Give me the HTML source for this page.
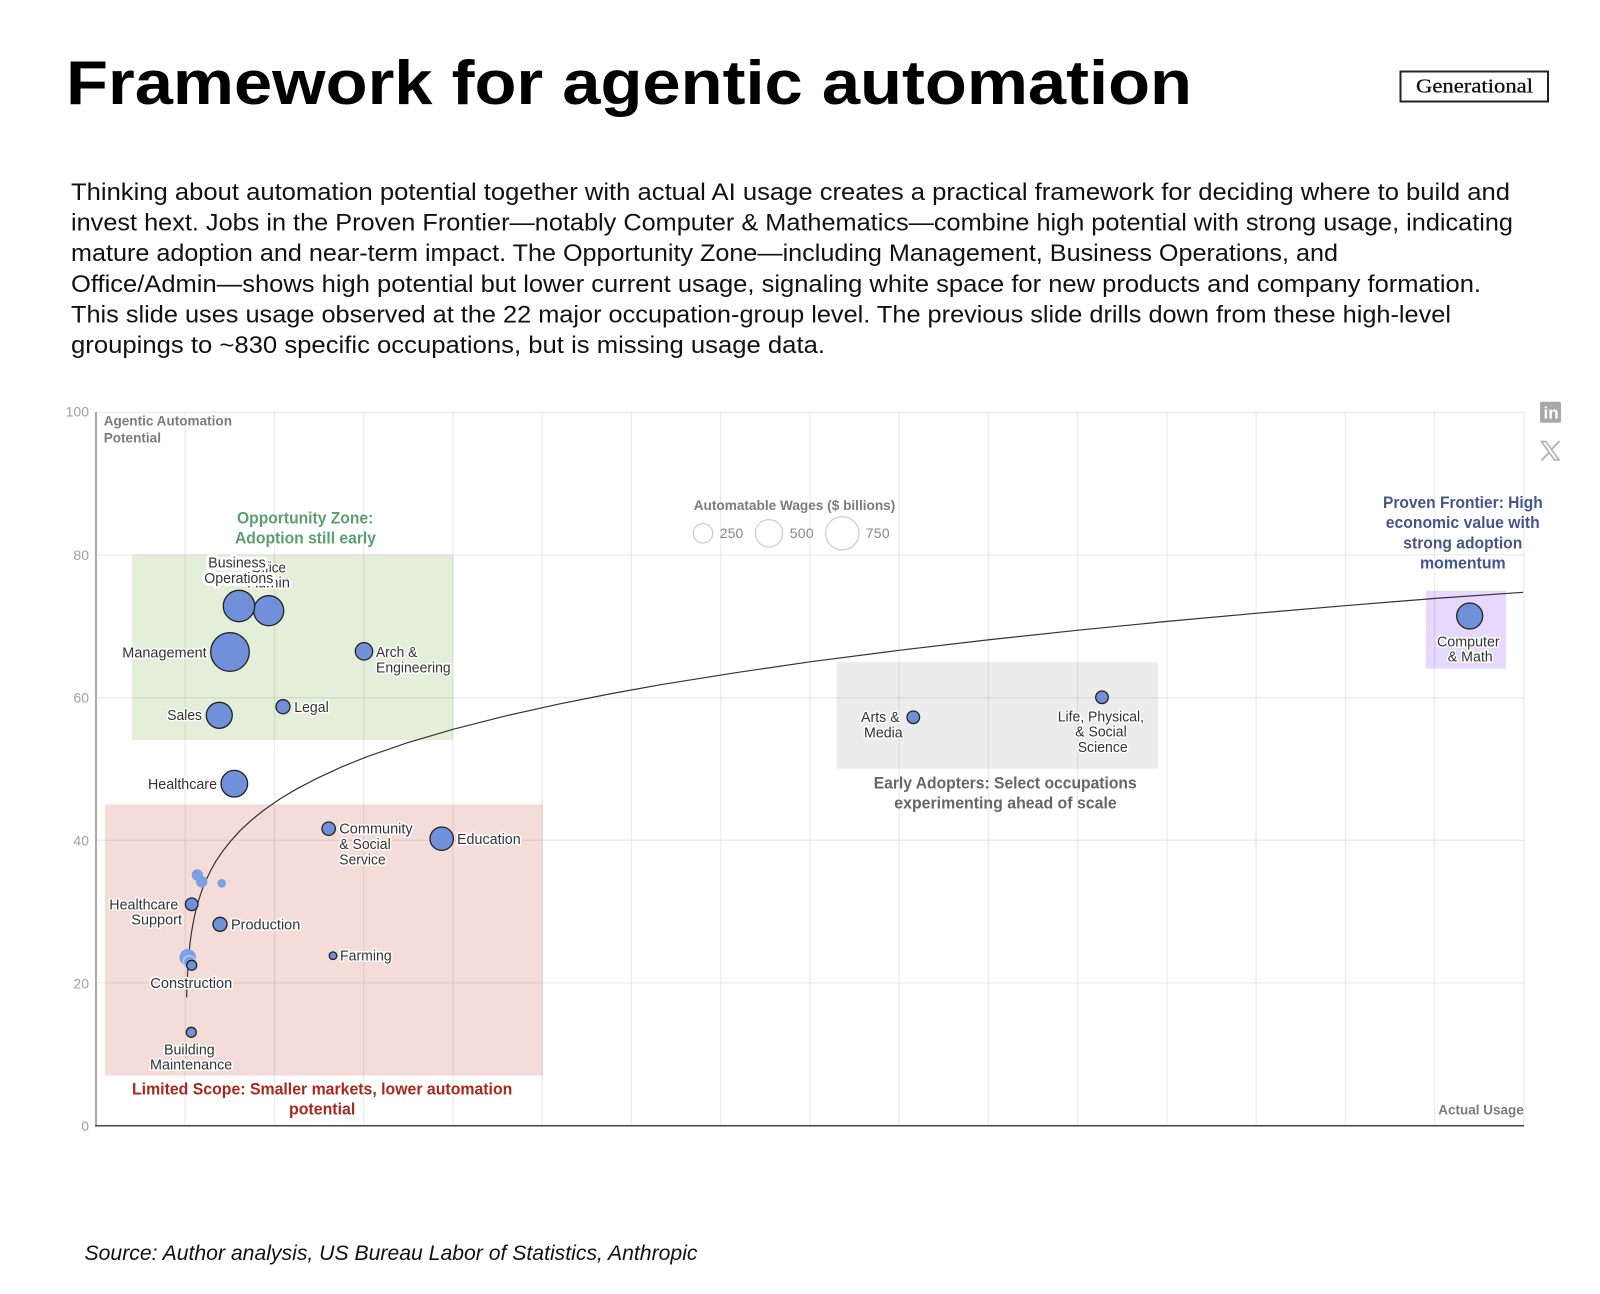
<!DOCTYPE html>
<html>
<head>
<meta charset="utf-8">
<title>Framework for agentic automation</title>
<style>
html,body{margin:0;padding:0;background:#fff;width:1600px;height:1294px;overflow:hidden}
svg{display:block}
text{font-family:"Liberation Sans",sans-serif}
.body{font-size:24.5px;fill:#111}
.l{font-size:14.3px;fill:#333;stroke:#fff;stroke-width:3px;paint-order:stroke;stroke-linejoin:round}
.top{stroke-width:6px}
.ax{font-size:14px;fill:#a0a0a0;text-anchor:end}
.g{font-size:14px;font-weight:bold;fill:#7c7c7c}
.z{font-size:17px;font-weight:bold}
.leg{font-size:14px;fill:#888}
.grid{stroke:#000;stroke-opacity:.075;stroke-width:1.3;fill:none}
.b{fill:#7090da;stroke:#222;stroke-width:1.3}
.lb{fill:#7c9fe6}
</style>
</head>
<body>
<svg width="1600" height="1294" viewBox="0 0 1600 1294" xmlns="http://www.w3.org/2000/svg">
<rect width="1600" height="1294" fill="#fff"/>

<text x="66" y="104" font-size="62" font-weight="bold" fill="#000" textLength="1126" lengthAdjust="spacingAndGlyphs">Framework for agentic automation</text>

<rect x="1400.5" y="71.5" width="147.5" height="30" fill="#fff" stroke="#222" stroke-width="2"/>
<text x="1416" y="92.5" font-size="20" fill="#111" stroke="#111" stroke-width=".3" style="font-family:'Liberation Serif',serif" textLength="117" lengthAdjust="spacingAndGlyphs">Generational</text>

<text class="body" x="71" y="200" textLength="1439" lengthAdjust="spacingAndGlyphs">Thinking about automation potential together with actual AI usage creates a practical framework for deciding where to build and</text>
<text class="body" x="71" y="230.6" textLength="1442" lengthAdjust="spacingAndGlyphs">invest hext. Jobs in the Proven Frontier—notably Computer &amp; Mathematics—combine high potential with strong usage, indicating</text>
<text class="body" x="71" y="261.2" textLength="1267" lengthAdjust="spacingAndGlyphs">mature adoption and near-term impact. The Opportunity Zone—including Management, Business Operations, and</text>
<text class="body" x="71" y="291.8" textLength="1410" lengthAdjust="spacingAndGlyphs">Office/Admin—shows high potential but lower current usage, signaling white space for new products and company formation.</text>
<text class="body" x="71" y="322.4" textLength="1380" lengthAdjust="spacingAndGlyphs">This slide uses usage observed at the 22 major occupation-group level. The previous slide drills down from these high-level</text>
<text class="body" x="71" y="353" textLength="754" lengthAdjust="spacingAndGlyphs">groupings to ~830 specific occupations, but is missing usage data.</text>

<!-- zones -->
<rect x="132" y="554.7" width="321.3" height="185.3" fill="#e3efd9"/>
<rect x="105" y="804.3" width="437.7" height="271.4" fill="#f4ddd9"/>
<rect x="836.7" y="662" width="321.3" height="106.7" fill="#ececec"/>
<rect x="1425.7" y="590.7" width="80.3" height="78" fill="#e6d9fd"/>

<!-- grid -->
<g class="grid">
<path d="M96 412.3H1523.8M96 554.9H1523.8M96 697.7H1523.8M96 840.3H1523.8M96 982.9H1523.8"/>
<path d="M185.2 412V1125M274.5 412V1125M363.7 412V1125M453 412V1125M542.2 412V1125M631.4 412V1125M720.7 412V1125M809.9 412V1125M899.2 412V1125M988.4 412V1125M1077.6 412V1125M1166.9 412V1125M1256.1 412V1125M1345.4 412V1125M1434.6 412V1125M1523.8 412V1125"/>
</g>

<!-- axes -->
<line x1="96" y1="412" x2="96" y2="1126" stroke="#9a9a9a" stroke-width="1.7"/>
<line x1="95" y1="1125.7" x2="1524" y2="1125.7" stroke="#444" stroke-width="1.5"/>

<text class="ax" x="89" y="416.7">100</text>
<text class="ax" x="89" y="560">80</text>
<text class="ax" x="89" y="702.7">60</text>
<text class="ax" x="89" y="845.7">40</text>
<text class="ax" x="89" y="988.3">20</text>
<text class="ax" x="89" y="1131">0</text>

<text class="g" x="103.7" y="425.7" textLength="128.3" lengthAdjust="spacingAndGlyphs">Agentic Automation</text>
<text class="g" x="103.7" y="442.7" textLength="57.3" lengthAdjust="spacingAndGlyphs">Potential</text>
<text class="g" x="1438.3" y="1114.7" textLength="85.4" lengthAdjust="spacingAndGlyphs">Actual Usage</text>

<!-- trend curve -->
<polyline fill="none" stroke="#333" stroke-width="1.2" stroke-linejoin="round" points="186.6,997.4 187,984.7 188,965.4 189,952.9 190,943.5 191.5,932.4 193,923.6 194.5,916.2 196,909.8 198,902.4 201,893 203,887.6 206,880.3 211,869.9 216,861.1 223,850.7 231,840.7 241,829.7 251,820.5 264,810 280,798.9 296,789.3 316,778.8 341,767.2 366,757.1 406,743.2 453,729.3 506,715.8 560,703.8 610,693.9 660,684.8 735,672.8 810,661.8 899,650.3 988,639.9 1077,630.3 1166,621.5 1256,613.3 1345,605.7 1434,598.5 1523,592.3"/>

<!-- legend -->
<text class="g" x="693.7" y="510" textLength="201.6" lengthAdjust="spacingAndGlyphs">Automatable Wages ($ billions)</text>
<g fill="none" stroke="#ccc" stroke-width="1.2">
<circle cx="703" cy="533.3" r="9.7"/>
<circle cx="769" cy="533.3" r="13.7"/>
<circle cx="842.3" cy="533.3" r="16.7"/>
</g>
<text class="leg" x="719.7" y="538" textLength="23.6">250</text>
<text class="leg" x="789.7" y="538" textLength="24">500</text>
<text class="leg" x="865.7" y="538" textLength="24">750</text>

<!-- bubbles -->
<circle class="b" cx="268.7" cy="610.7" r="15"/>
<circle class="b" cx="239" cy="606" r="15.7"/>
<circle class="b" cx="230" cy="652" r="19.3"/>
<circle class="b" cx="364" cy="651.3" r="8.7"/>
<circle class="b" cx="219.3" cy="715.3" r="13"/>
<circle class="b" cx="283" cy="706.7" r="7"/>
<circle class="b" cx="234.3" cy="783.7" r="13.3"/>
<circle class="b" cx="328.7" cy="828.7" r="6.7"/>
<circle class="b" cx="441.7" cy="838.7" r="11.7"/>
<circle class="lb" cx="197.3" cy="875" r="5.7"/>
<circle class="lb" cx="201.7" cy="881.7" r="5.7"/>
<circle class="lb" cx="221.7" cy="883.3" r="4.3"/>
<circle class="b" cx="191.7" cy="904.3" r="6.3"/>
<circle class="b" cx="220" cy="924.3" r="7"/>
<circle class="lb" cx="187.7" cy="957.3" r="8.3"/>
<circle class="lb" cx="189.3" cy="961.7" r="6" stroke="#b8c9f0" stroke-width="1.5"/>
<circle class="b" cx="191.7" cy="965.3" r="5"/>
<circle class="b" cx="333" cy="955.7" r="3.8"/>
<circle class="b" cx="191.3" cy="1032.3" r="5"/>
<circle class="b" cx="913.3" cy="717.3" r="6.3"/>
<circle class="b" cx="1102" cy="697.3" r="6.3"/>
<circle class="b" cx="1469.7" cy="616" r="13"/>

<!-- labels -->
<text class="l" x="251" y="572.3" textLength="35" lengthAdjust="spacingAndGlyphs">Office</text>
<text class="l" x="248" y="587.7" textLength="42" lengthAdjust="spacingAndGlyphs">Admin</text>
<text class="l top" x="208.3" y="567.7" textLength="57.4" lengthAdjust="spacingAndGlyphs">Business</text>
<text class="l top" x="204.3" y="583" textLength="69" lengthAdjust="spacingAndGlyphs">Operations</text>
<text class="l" x="122.3" y="657.3" textLength="84.4" lengthAdjust="spacingAndGlyphs">Management</text>
<text class="l" x="376" y="657" textLength="41.3" lengthAdjust="spacingAndGlyphs">Arch &amp;</text>
<text class="l" x="376" y="672.7" textLength="74.7" lengthAdjust="spacingAndGlyphs">Engineering</text>
<text class="l" x="167.3" y="720" textLength="34.7" lengthAdjust="spacingAndGlyphs">Sales</text>
<text class="l" x="294.3" y="712" textLength="34.4" lengthAdjust="spacingAndGlyphs">Legal</text>
<text class="l" x="148" y="789" textLength="69" lengthAdjust="spacingAndGlyphs">Healthcare</text>
<text class="l" x="339.3" y="833.7" textLength="73.4" lengthAdjust="spacingAndGlyphs">Community</text>
<text class="l" x="339.3" y="849" textLength="51.4" lengthAdjust="spacingAndGlyphs">&amp; Social</text>
<text class="l" x="339.3" y="864.3" textLength="46.4" lengthAdjust="spacingAndGlyphs">Service</text>
<text class="l" x="457" y="844" textLength="63.7" lengthAdjust="spacingAndGlyphs">Education</text>
<text class="l" x="109.3" y="909.3" textLength="69" lengthAdjust="spacingAndGlyphs">Healthcare</text>
<text class="l" x="131.3" y="924.7" textLength="50.7" lengthAdjust="spacingAndGlyphs">Support</text>
<text class="l" x="231" y="929.7" textLength="69.3" lengthAdjust="spacingAndGlyphs">Production</text>
<text class="l" x="340" y="960.3" textLength="51.7" lengthAdjust="spacingAndGlyphs">Farming</text>
<text class="l" x="150.3" y="988" textLength="82" lengthAdjust="spacingAndGlyphs">Construction</text>
<text class="l" x="164" y="1054.3" textLength="50.7" lengthAdjust="spacingAndGlyphs">Building</text>
<text class="l" x="150" y="1069.7" textLength="82.3" lengthAdjust="spacingAndGlyphs">Maintenance</text>
<text class="l" x="861" y="722" textLength="38.7" lengthAdjust="spacingAndGlyphs">Arts &amp;</text>
<text class="l" x="864" y="737.3" textLength="38.7" lengthAdjust="spacingAndGlyphs">Media</text>
<text class="l" x="1057.7" y="721.3" textLength="86.3" lengthAdjust="spacingAndGlyphs">Life, Physical,</text>
<text class="l" x="1075.3" y="736.7" textLength="51.4" lengthAdjust="spacingAndGlyphs">&amp; Social</text>
<text class="l" x="1077.7" y="752" textLength="50" lengthAdjust="spacingAndGlyphs">Science</text>
<text class="l" x="1437" y="646.3" textLength="62.7" lengthAdjust="spacingAndGlyphs">Computer</text>
<text class="l" x="1447.7" y="661.7" textLength="45" lengthAdjust="spacingAndGlyphs">&amp; Math</text>

<!-- zone titles -->
<g class="z" fill="#5b9f70">
<text x="237" y="523.3" textLength="136.3" lengthAdjust="spacingAndGlyphs">Opportunity Zone:</text>
<text x="235" y="543.7" textLength="141" lengthAdjust="spacingAndGlyphs">Adoption still early</text>
</g>
<g class="z" fill="#a8281f">
<text x="132" y="1094.3" textLength="380.3" lengthAdjust="spacingAndGlyphs">Limited Scope: Smaller markets, lower automation</text>
<text x="289" y="1114.3" textLength="66.3" lengthAdjust="spacingAndGlyphs">potential</text>
</g>
<g class="z" fill="#666">
<text x="873.7" y="788.3" textLength="263" lengthAdjust="spacingAndGlyphs">Early Adopters: Select occupations</text>
<text x="894.3" y="808.3" textLength="222.4" lengthAdjust="spacingAndGlyphs">experimenting ahead of scale</text>
</g>
<g class="z" fill="#46568a">
<text x="1383" y="508" textLength="159.7" lengthAdjust="spacingAndGlyphs">Proven Frontier: High</text>
<text x="1385.7" y="528" textLength="154" lengthAdjust="spacingAndGlyphs">economic value with</text>
<text x="1403.3" y="548.3" textLength="119" lengthAdjust="spacingAndGlyphs">strong adoption</text>
<text x="1420" y="568.3" textLength="85.7" lengthAdjust="spacingAndGlyphs">momentum</text>
</g>

<!-- social icons -->
<rect x="1540" y="401.7" width="21" height="21" rx="2" fill="#a8a8a8"/>
<text x="1543.5" y="418.5" font-size="17" font-weight="bold" fill="#fff">in</text>
<g fill="none" stroke="#b0b0b0">
<path d="M1541.5 441.5h4.5l13 18.5h-4.5z" stroke-width="1.6"/>
<path d="M1559.5 441l-8 8.5M1549 452.5l-7.5 8" stroke-width="1.8"/>
</g>

<text x="84.5" y="1260" font-size="21" font-style="italic" fill="#111" textLength="613" lengthAdjust="spacingAndGlyphs">Source: Author analysis, US Bureau Labor of Statistics, Anthropic</text>
</svg>
</body>
</html>
